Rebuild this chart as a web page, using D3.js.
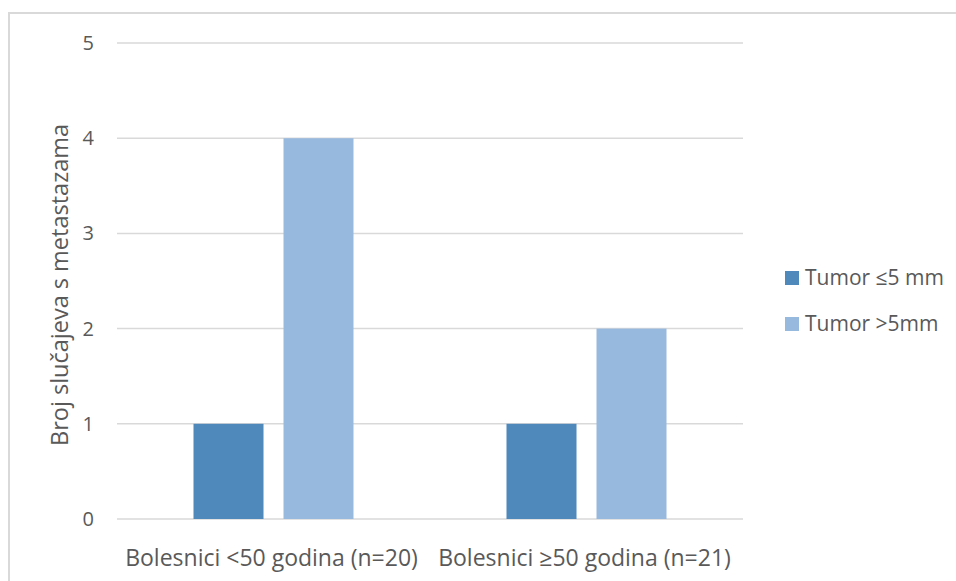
<!DOCTYPE html>
<html><head><meta charset="utf-8">
<script src="https://cdn.jsdelivr.net/npm/d3@7"></script>
<style>body{margin:0;background:#fff}svg{display:block}text{font-family:"Open Sans",sans-serif;fill:#595959}</style>
</head><body><svg id="c" width="956" height="581"></svg>
<script>
const categories = ["Bolesnici <50 godina (n=20)", "Bolesnici \u226550 godina (n=21)"];
const seriesNames = ["Tumor \u22645 mm", "Tumor >5mm"];
const small = [1, 1];
const large = [4, 2];
const yTicks = [0, 1, 2, 3, 4, 5];
const colors = ["#4f88bb", "#98b9de"];
const yTitle = "Broj slu\u010Dajeva s metastazama";

const FONT = "Open Sans";
const svg = d3.select("#c");
svg.append("rect").attr("x", 9).attr("y", 13).attr("width", 960).attr("height", 600)
  .attr("fill", "none").attr("stroke", "#d9d9d9").attr("stroke-width", 2);

const x0 = d3.scaleBand().domain(categories).range([117, 743]);
const x1 = d3.scaleBand().domain(seriesNames).range([0, x0.bandwidth()]).paddingInner(0.2222).paddingOuter(0.85);
const y = d3.scaleLinear().domain([0, 5]).range([519, 43]);

svg.append("g").selectAll("line").data(yTicks).enter().append("line")
  .attr("x1", 117).attr("x2", 743).attr("y1", d => y(d)).attr("y2", d => y(d))
  .attr("stroke", "#d9d9d9").attr("stroke-width", 1.5);

const yAxis = d3.axisLeft(y).tickValues(yTicks).tickSize(0).tickPadding(0).tickFormat(d3.format("d"));
const ya = svg.append("g").attr("transform", "translate(94,0)").call(yAxis);
ya.select(".domain").remove();
ya.selectAll("text").attr("font-size", 20).style("fill", "#595959").attr("font-family", FONT);

const data = categories.map((c, i) => ({c, vals: [small[i], large[i]]}));
const groups = svg.selectAll("g.grp").data(data).enter().append("g").attr("class", "grp")
  .attr("transform", d => `translate(${x0(d.c)},0)`);
groups.selectAll("rect").data(d => d.vals.map((v, j) => ({s: seriesNames[j], v, j}))).enter().append("rect")
  .attr("x", d => x1(d.s)).attr("width", x1.bandwidth())
  .attr("y", d => y(d.v)).attr("height", d => y(0) - y(d.v))
  .attr("fill", d => colors[d.j]);

const xAxis = d3.axisBottom(x0).tickSize(0).tickPadding(0);
const xa = svg.append("g").attr("transform", "translate(-2,566)").call(xAxis);
xa.select(".domain").remove();
xa.selectAll("text").attr("font-size", 23).style("fill", "#595959").attr("font-family", FONT).attr("y", 0).attr("dy", 0);

svg.append("text").attr("transform", "translate(68,285) rotate(-90)")
  .attr("text-anchor", "middle").attr("font-size", 23.5).text(yTitle);

const leg = svg.selectAll("g.leg").data(seriesNames).enter().append("g").attr("class", "leg")
  .attr("transform", (d, i) => `translate(785,${271 + i * 46})`);
leg.append("rect").attr("width", 14).attr("height", 14).attr("fill", (d, i) => colors[i]);
leg.append("text").attr("x", 20).attr("y", 14).attr("font-size", 21).text(d => d);
</script></body></html>
